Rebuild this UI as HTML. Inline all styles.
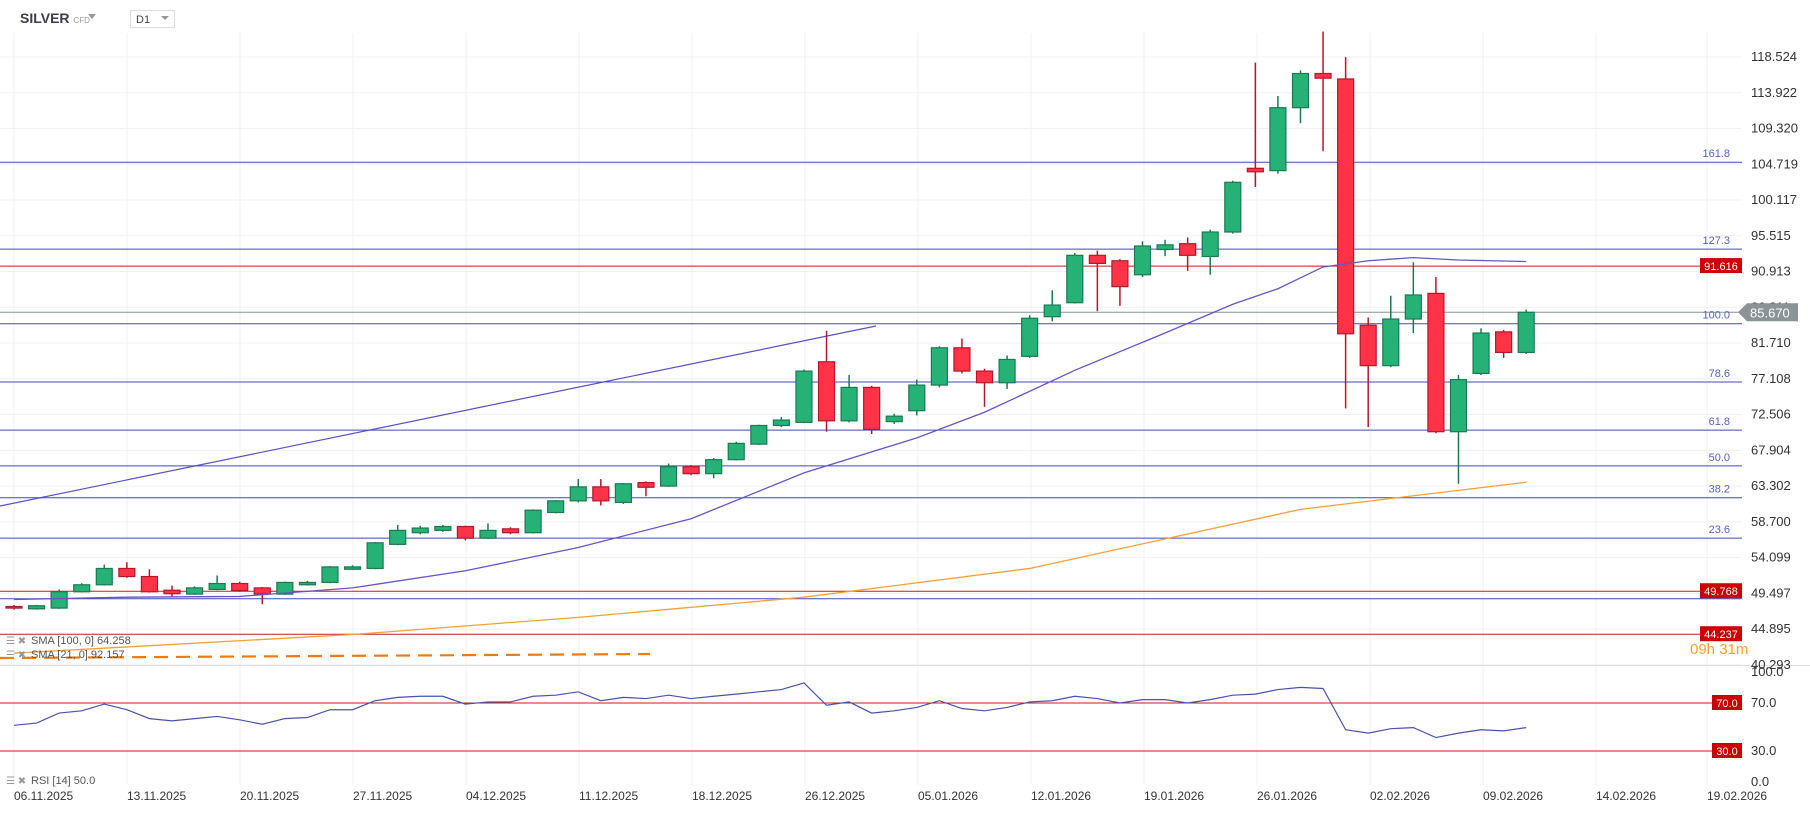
<!DOCTYPE html>
<html><head><meta charset="utf-8"><style>
body{margin:0;background:#fff;font-family:"Liberation Sans",sans-serif;}
svg{display:block}
</style></head><body>
<svg id="c" width="1810" height="813" xmlns="http://www.w3.org/2000/svg">
<rect width="1810" height="813" fill="#fff"/>
<g id="grid"></g>
<g id="lines"></g>
<g id="candles"></g>
<g id="inds"></g>
<g id="labels"></g>
<text x="20" y="23" font-size="14" font-weight="bold" fill="#3a3f4a">SILVER <tspan font-size="8" font-weight="normal" fill="#999">CFD</tspan></text>
<path d="M87 14 L95 14 L91 19 Z" fill="#999" transform="translate(1,0)"/>
<rect x="130.5" y="10.5" width="44" height="17" fill="#fff" stroke="#ddd"/>
<text x="136" y="23" font-size="11" fill="#444">D1</text>
<path d="M161 16 L169 16 L165 20 Z" fill="#999"/>
</svg>
<script>
const opens=[47.8,47.5,47.6,49.7,50.6,52.7,51.66,49.9,49.4,50.0,50.76,50.2,49.4,50.6,50.9,52.6,52.7,55.8,57.3,57.6,58.1,56.6,57.8,57.3,59.9,61.4,63.2,61.2,63.75,63.3,65.8,64.9,66.7,68.7,71.1,71.5,79.3,71.7,76.0,71.6,73.0,76.3,81.1,78.1,76.6,80.0,85.1,86.9,93.0,92.3,90.5,93.75,94.5,92.85,96.0,104.2,103.9,112.0,116.4,115.7,84.0,78.8,84.8,88.1,70.3,77.8,83.15,80.5];
const highs=[48.0,48.0,50.0,50.8,53.2,53.5,52.6,50.5,50.4,51.8,51.0,50.3,51.0,51.1,53.0,53.1,56.1,58.3,58.2,58.3,58.2,58.5,58.0,60.3,61.5,64.2,64.2,63.7,63.9,66.2,66.0,66.9,69.0,71.2,72.2,78.3,83.3,77.6,76.2,72.6,77.0,81.3,82.3,78.4,80.1,85.3,88.5,93.3,93.6,92.5,94.8,95.0,95.3,96.3,102.6,117.8,113.5,116.8,121.8,118.5,85.0,87.8,92.1,90.2,77.6,83.6,83.4,86.0];
const lows=[47.4,47.4,47.5,49.6,50.5,51.5,49.6,49.1,49.3,49.9,49.7,48.1,49.3,50.5,50.8,52.5,52.6,55.7,57.1,57.4,56.3,56.5,57.1,57.2,59.8,61.2,60.8,61.0,62.0,63.2,64.7,64.3,66.6,68.6,70.9,71.4,70.3,71.5,70.0,71.3,72.4,76.0,77.8,73.5,75.8,79.8,84.5,86.8,85.8,86.5,90.2,92.9,91.0,90.5,95.8,101.8,103.5,110.0,106.4,73.3,70.9,78.6,83.0,70.1,63.6,77.6,79.8,80.3];
const closes=[47.6,47.9,49.7,50.6,52.7,51.66,49.7,49.45,50.2,50.76,49.87,49.4,50.9,50.9,52.9,52.9,56.0,57.6,57.9,58.1,56.6,57.6,57.3,60.2,61.4,63.2,61.4,63.6,63.15,65.8,64.9,66.7,68.8,71.1,71.8,78.1,71.7,76.0,70.6,72.3,76.3,81.1,78.1,76.6,79.6,84.9,86.6,93.0,91.96,88.97,94.2,94.35,93.0,96.0,102.4,103.75,112.0,116.4,115.8,82.9,78.8,84.8,87.9,70.3,77.0,83.0,80.5,85.67];
const sma21Idx=[0,5,10,15,20,25,30,35,40,43,47,51,54,56,58,60,62,64,67];
const sma21Val=[48.7,49.0,49.1,50.2,52.4,55.4,59.1,65.0,69.5,72.8,78.2,83.0,86.7,88.7,91.5,92.3,92.7,92.4,92.2];
const sma100Idx=[0,5,15,25,35,45,57,67];
const sma100Val=[41.8,42.6,44.2,46.4,49.0,52.7,60.3,63.8];
const rsi=[51.4,53.3,61.6,63.5,69.1,64.4,57,55.1,57,58.8,56,52.3,57,57.9,64.4,64.4,71.9,74.7,75.6,75.6,69.1,70.9,70.9,75.6,76.5,79.3,71.9,74.7,73.7,76.5,73.7,75.6,77.4,79.3,81.2,86.7,68.1,70.9,61.6,63.5,66.3,71.9,65.4,63.5,66.3,70.9,71.9,75.6,73.7,70,72.8,72.8,70,72.8,76.5,77.4,81.2,83,82.1,47.7,44.9,48.6,49.5,41.2,44.9,47.7,46.8,49.5];
const priceTicks=["118.524","113.922","109.320","104.719","100.117","95.515","90.913","86.311","81.710","77.108","72.506","67.904","63.302","58.700","54.099","49.497","44.895","40.293"];
const fibLevels=[104.98,93.8,84.2,76.7,70.5,65.9,61.8,56.6,48.8];
const fibLabels=["161.8","127.3","100.0","78.6","61.8","50.0","38.2","23.6",""];
const redLevels=[91.616,49.768,44.237];
const lastPrice=85.67;
const rsiTicks=[100,70,30,0];
const dateLabels=["06.11.2025","13.11.2025","20.11.2025","27.11.2025","04.12.2025","11.12.2025","18.12.2025","26.12.2025","05.01.2026","12.01.2026","19.01.2026","26.01.2026","02.02.2026","09.02.2026","14.02.2026","19.02.2026"];

const NS="http://www.w3.org/2000/svg";
const X=i=>14+i*22.57;
const Y=p=>57+(118.524-p)*7.77;
const RY=r=>787-1.2*r;
const PR=1742;
function mk(g,tag,at){const e=document.createElementNS(NS,tag);for(const k in at)e.setAttribute(k,at[k]);document.getElementById(g).appendChild(e);return e;}
priceTicks.forEach(t=>{const y=Y(+t);
 const l=mk('grid','line',{x1:0,x2:PR,y1:y,y2:y,stroke:'#f0f0f0'});
 
 
 const tx=mk('labels','text',{x:1751,y:y+4,'font-size':13,fill:'#333'});tx.textContent=t;
 
 
});
dateLabels.forEach((d,k)=>{const gx=k<14?14+113*k:(k==14?1596:1707);
 const l=mk('grid','line',{x1:gx,x2:gx,y1:33,y2:785,stroke:'#f0f0f0'});
 
 
 const tx=mk('labels','text',{x:gx,y:800,'font-size':12,fill:'#333'});tx.textContent=d;
 
 
});
mk('grid','line',{x1:0,x2:1810,y1:665.5,y2:665.5,stroke:'#ddd'});
const tl=mk('lines','line',{x1:0,y1:506,x2:876,y2:326,stroke:'#5a4fc8','stroke-width':1.2});


fibLevels.forEach((p,k)=>{const y=Y(p);
 const l=mk('lines','line',{x1:0,x2:PR,y1:y,y2:y,stroke:'#3c4bbf','stroke-width':1});
 
 
 if(fibLabels[k]){const t=mk('labels','text',{x:1730,y:y-5,'font-size':11,fill:'#5560c0','text-anchor':'end'});t.textContent=fibLabels[k];
 
 }
});
redLevels.forEach(p=>{const y=Y(p);
 const l=mk('lines','line',{x1:0,x2:PR,y1:y,y2:y,stroke:'#cc1a1a','stroke-width':1});
 
 
 const r=mk('labels','rect',{x:1700,y:y-8,width:42,height:15,fill:'#cc0000'});
 
 
 const t=mk('labels','text',{x:1721,y:y+4,'font-size':11,fill:'#fff','text-anchor':'middle'});t.textContent=p.toFixed(3);
 
 
});
{const y=Y(lastPrice);
 const l=mk('lines','line',{x1:0,x2:1740,y1:y,y2:y,stroke:'#8a9396','stroke-width':1});
 
 
 const r=mk('labels','path',{d:`M1738 ${y} L1747 ${y-9} L1798 ${y-9} L1798 ${y+9} L1747 ${y+9} Z`,fill:'#8a9396'});
 
 
 const t=mk('labels','text',{x:1750,y:y+5,'font-size':13,fill:'#fff'});t.textContent=lastPrice.toFixed(3);
 
 }
{const l=mk('lines','line',{x1:0,y1:658,x2:650,y2:654,stroke:'#f07a10','stroke-width':2.2,'stroke-dasharray':'14 8'});
 
 }
opens.forEach((o,i)=>{const c=closes[i],up=c>=o,x=X(i);
 const col=up?'#26b276':'#ff3347',bd=up?'#1b7a52':'#b8162a';
 const w=mk('candles','line',{x1:x,x2:x,y1:Y(highs[i]),y2:Y(lows[i]),stroke:bd,'stroke-width':1.5});
 
 
 const t=Y(Math.max(o,c)),b=Y(Math.min(o,c));
 const r=mk('candles','rect',{x:x-8,y:t,width:16,height:Math.max(b-t,1.5),fill:col,stroke:bd,'stroke-width':1.2});
 
 
});
function poly(idx,val,col,name){const p=mk('inds','polyline',{points:idx.map((k,j)=>X(k)+','+Y(val[j])).join(' '),fill:'none',stroke:col,'stroke-width':1.3});
 
 }
poly(sma21Idx,sma21Val,'#6a52c8','sma-21-line');
poly(sma100Idx,sma100Val,'#f7a032','sma-100-line');
[70,30].forEach(v=>{const l=mk('inds','line',{x1:0,x2:PR,y1:RY(v),y2:RY(v),stroke:'#cc1a1a'});
 
 
 const r=mk('labels','rect',{x:1712,y:RY(v)-8,width:30,height:15,fill:'#cc0000'});
 
 
 const t=mk('labels','text',{x:1727,y:RY(v)+4,'font-size':11,fill:'#fff','text-anchor':'middle'});t.textContent=v.toFixed(1);
 
 });
rsiTicks.forEach(v=>{const t=mk('labels','text',{x:1751,y:RY(v)+(v==100?9:v==0?-1:4),'font-size':13,fill:'#333'});t.textContent=v.toFixed(1);
 
 });
{const p=mk('inds','polyline',{points:rsi.map((v,i)=>X(i)+','+RY(v)).join(' '),fill:'none',stroke:'#4a52b0','stroke-width':1.2});
 
 }
[["SMA [100,  0] 64.258",644],["SMA [21,  0] 92.157",658],["RSI  [14]  50.0",784]].forEach(([s,y])=>{
 const i=mk('labels','text',{x:6,y:y,'font-size':10,fill:'#999'});i.textContent='☰ ✖';
 
 
 const t=mk('labels','text',{x:31,y:y,'font-size':11,fill:'#555'});t.textContent=s;
 
 });
{const t=mk('labels','text',{x:1690,y:654,'font-size':15,fill:'#f7a032'});t.textContent='09h 31m';
 
 }
</script>
</body></html>
